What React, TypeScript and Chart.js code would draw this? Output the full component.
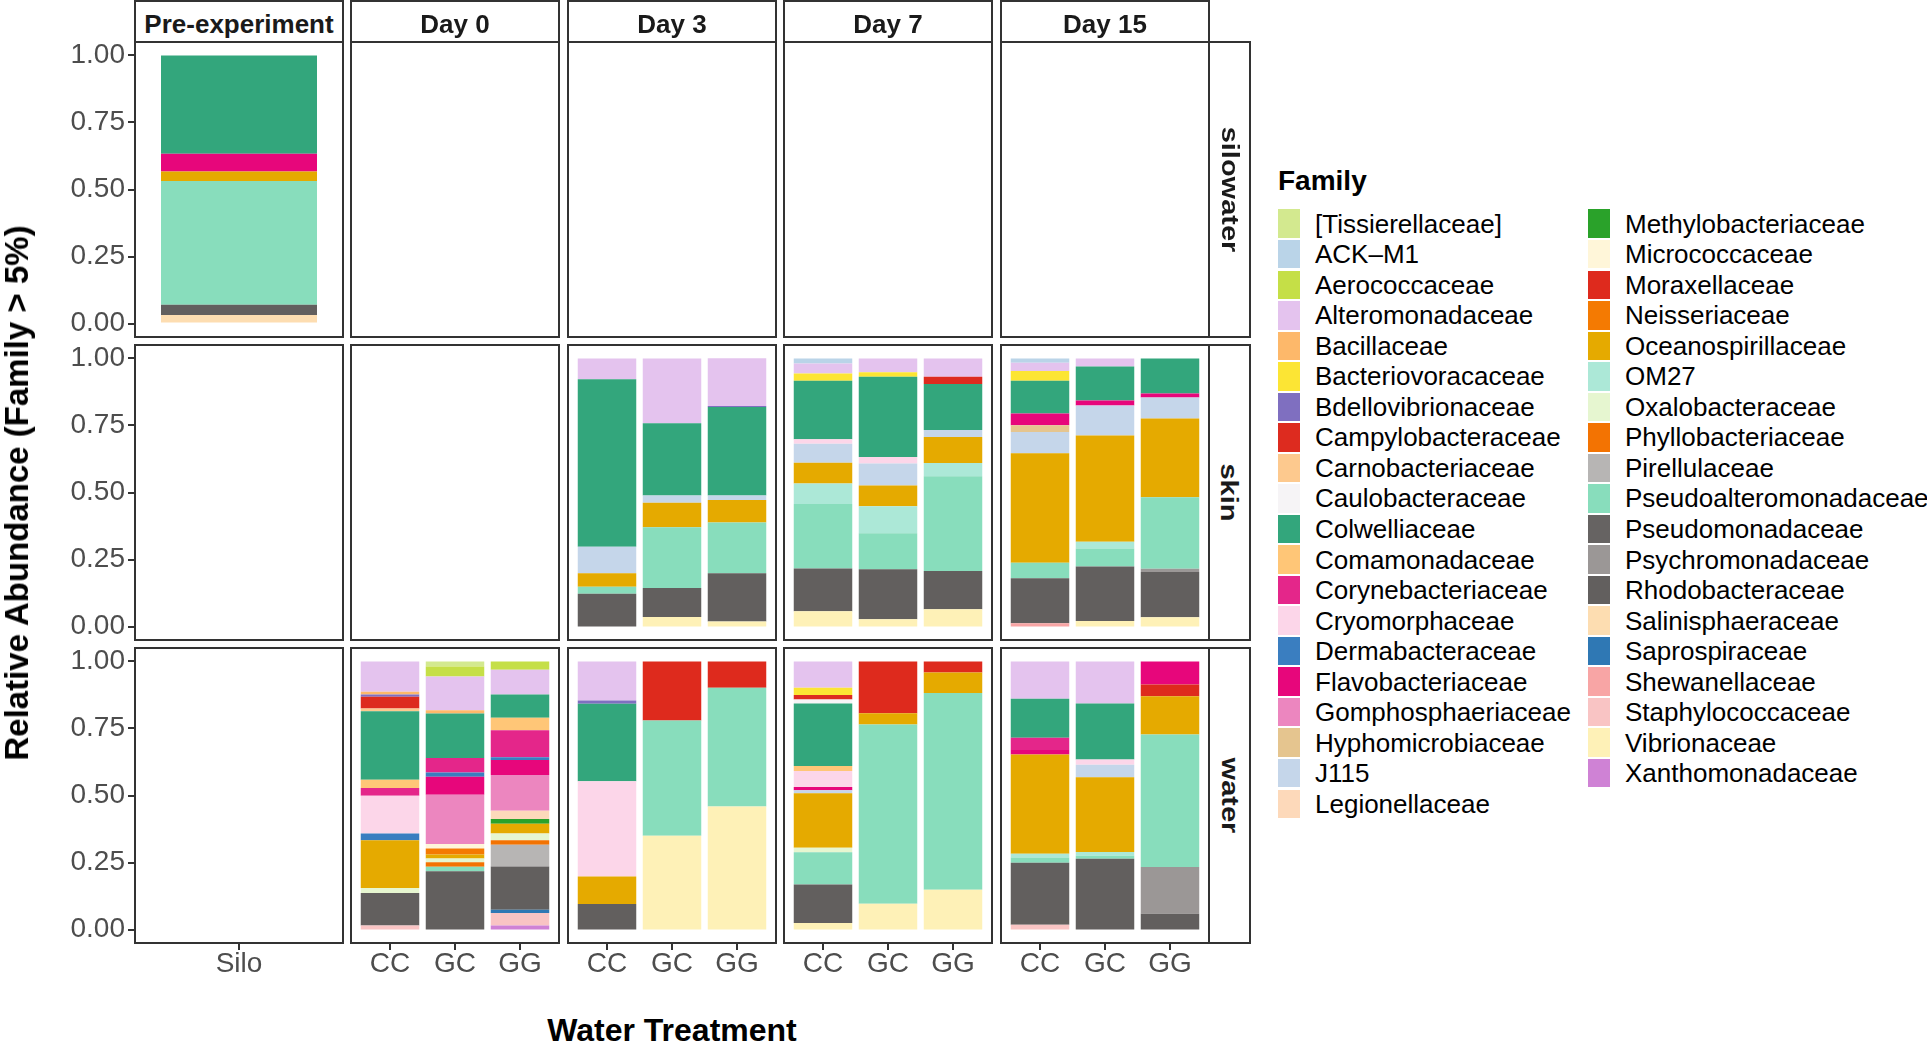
import React, { useEffect, useRef } from "react";
import { Chart, registerables } from "chart.js";

Chart.register(...registerables);

// ---------- categories & labels ----------
const FAMILIES = [
  "[Tissierellaceae]", "ACK–M1", "Aerococcaceae", "Alteromonadaceae", "Bacillaceae",
  "Bacteriovoracaceae", "Bdellovibrionaceae", "Campylobacteraceae", "Carnobacteriaceae",
  "Caulobacteraceae", "Colwelliaceae", "Comamonadaceae", "Corynebacteriaceae",
  "Cryomorphaceae", "Dermabacteraceae", "Flavobacteriaceae", "Gomphosphaeriaceae",
  "Hyphomicrobiaceae", "J115", "Legionellaceae",
  "Methylobacteriaceae", "Micrococcaceae", "Moraxellaceae", "Neisseriaceae",
  "Oceanospirillaceae", "OM27", "Oxalobacteraceae", "Phyllobacteriaceae", "Pirellulaceae",
  "Pseudoalteromonadaceae", "Pseudomonadaceae", "Psychromonadaceae", "Rhodobacteraceae",
  "Salinisphaeraceae", "Saprospiraceae", "Shewanellaceae", "Staphylococcaceae",
  "Vibrionaceae", "Xanthomonadaceae",
];

const FAMILY_COLORS = [
  "#D3E98F", "#BAD4E8", "#C5DF47", "#E4C3EE", "#FDB86A",
  "#FCE534", "#7F6FC0", "#DD2B1F", "#FDC98E",
  "#F6F4F6", "#33A67C", "#FFC677", "#E4268A",
  "#FCD6E9", "#3A7EC0", "#E7067B", "#EC86BF",
  "#E5C58F", "#C5D6EA", "#FDD9BA",
  "#2AA22A", "#FFF6D9", "#DE2A1D", "#F47A02",
  "#E5AA00", "#ACE8D7", "#E6F6D0", "#F37302", "#B7B5B4",
  "#88DDBC", "#666362", "#9B9796", "#625F5E",
  "#FDDDB1", "#2F78B4", "#F8A5A5", "#F9C4C4",
  "#FEF1B7", "#CF82D5",
];

const DAYS = ["Pre-experiment", "Day 0", "Day 3", "Day 7", "Day 15"];
const SITES = ["silowater", "skin", "water"];
const PRE_TREATMENTS = ["Silo"];
const TREATMENTS = ["CC", "GC", "GG"];
const Y_TICKS = [0, 0.25, 0.5, 0.75, 1];

const Y_TITLE = "Relative Abundance (Family > 5%)";
const X_TITLE = "Water Treatment";
const LEGEND_TITLE = "Family";

// ---------- relative abundances per bar (family -> value) ----------
type Bar = Record<string, number>;

const SILOWATER_PRE_SILO: Bar = {
  Colwelliaceae: 0.367, Flavobacteriaceae: 0.066, Oceanospirillaceae: 0.035,
  Pseudoalteromonadaceae: 0.462, Rhodobacteraceae: 0.038, Salinisphaeraceae: 0.032,
};

const SKIN_D3_CC: Bar = {
  Alteromonadaceae: 0.078, Colwelliaceae: 0.624, J115: 0.099, Oceanospirillaceae: 0.05,
  Pseudoalteromonadaceae: 0.027, Rhodobacteraceae: 0.122,
};
const SKIN_D3_GC: Bar = {
  Alteromonadaceae: 0.242, Colwelliaceae: 0.269, J115: 0.027, Oceanospirillaceae: 0.092,
  Pseudoalteromonadaceae: 0.226, Rhodobacteraceae: 0.108, Vibrionaceae: 0.036,
};
const SKIN_D3_GG: Bar = {
  Alteromonadaceae: 0.178, Bdellovibrionaceae: 0.004, Colwelliaceae: 0.33, J115: 0.017,
  Oceanospirillaceae: 0.084, Pseudoalteromonadaceae: 0.189, Rhodobacteraceae: 0.18,
  Vibrionaceae: 0.019,
};
const SKIN_D7_CC: Bar = {
  "ACK–M1": 0.019, Alteromonadaceae: 0.037, Bacteriovoracaceae: 0.027, Colwelliaceae: 0.218,
  Cryomorphaceae: 0.017, J115: 0.071, Oceanospirillaceae: 0.077, OM27: 0.077,
  Pseudoalteromonadaceae: 0.24, Rhodobacteraceae: 0.16, Vibrionaceae: 0.057,
};
const SKIN_D7_GC: Bar = {
  Alteromonadaceae: 0.052, Bacteriovoracaceae: 0.016, Colwelliaceae: 0.3, Cryomorphaceae: 0.024,
  J115: 0.082, Oceanospirillaceae: 0.077, OM27: 0.101, Pseudoalteromonadaceae: 0.134,
  Rhodobacteraceae: 0.187, Vibrionaceae: 0.027,
};
const SKIN_D7_GG: Bar = {
  Alteromonadaceae: 0.068, Campylobacteraceae: 0.027, Colwelliaceae: 0.172, J115: 0.026,
  Oceanospirillaceae: 0.097, OM27: 0.049, Pseudoalteromonadaceae: 0.354,
  Rhodobacteraceae: 0.142, Vibrionaceae: 0.065,
};
const SKIN_D15_CC: Bar = {
  "ACK–M1": 0.016, Alteromonadaceae: 0.031, Bacteriovoracaceae: 0.036, Colwelliaceae: 0.122,
  Flavobacteriaceae: 0.044, Hyphomicrobiaceae: 0.025, J115: 0.08, Oceanospirillaceae: 0.408,
  Pseudoalteromonadaceae: 0.058, Rhodobacteraceae: 0.168, Shewanellaceae: 0.012,
};
const SKIN_D15_GC: Bar = {
  Alteromonadaceae: 0.03, Colwelliaceae: 0.127, Flavobacteriaceae: 0.019, J115: 0.111,
  Oceanospirillaceae: 0.397, OM27: 0.025, Pseudoalteromonadaceae: 0.067,
  Rhodobacteraceae: 0.203, Vibrionaceae: 0.021,
};
const SKIN_D15_GG: Bar = {
  Colwelliaceae: 0.131, Flavobacteriaceae: 0.015, J115: 0.078, Oceanospirillaceae: 0.294,
  Pseudoalteromonadaceae: 0.266, Psychromonadaceae: 0.012, Rhodobacteraceae: 0.169,
  Vibrionaceae: 0.035,
};

const WATER_D0_CC: Bar = {
  Alteromonadaceae: 0.113, Bacillaceae: 0.01, Bdellovibrionaceae: 0.009, Campylobacteraceae: 0.044,
  Carnobacteriaceae: 0.01, Colwelliaceae: 0.255, Comamonadaceae: 0.031, Corynebacteriaceae: 0.029,
  Cryomorphaceae: 0.141, Dermabacteraceae: 0.025, Oceanospirillaceae: 0.178,
  Oxalobacteraceae: 0.019, Rhodobacteraceae: 0.121, Staphylococcaceae: 0.015,
};
const WATER_D0_GC: Bar = {
  "[Tissierellaceae]": 0.019, Aerococcaceae: 0.037, Alteromonadaceae: 0.126, Bacillaceae: 0.012,
  Colwelliaceae: 0.166, Corynebacteriaceae: 0.054, Dermabacteraceae: 0.016,
  Flavobacteriaceae: 0.067, Gomphosphaeriaceae: 0.184, Micrococcaceae: 0.017,
  Neisseriaceae: 0.022, Oceanospirillaceae: 0.015, Oxalobacteraceae: 0.014,
  Phyllobacteriaceae: 0.017, Pseudoalteromonadaceae: 0.016, Rhodobacteraceae: 0.218,
};
const WATER_D0_GG: Bar = {
  Aerococcaceae: 0.031, Alteromonadaceae: 0.092, Colwelliaceae: 0.087, Comamonadaceae: 0.047,
  Corynebacteriaceae: 0.1, Dermabacteraceae: 0.011, Flavobacteriaceae: 0.056,
  Gomphosphaeriaceae: 0.133, Legionellaceae: 0.031, Methylobacteriaceae: 0.017,
  Oceanospirillaceae: 0.037, Oxalobacteraceae: 0.025, Phyllobacteriaceae: 0.017,
  Pirellulaceae: 0.081, Rhodobacteraceae: 0.161, Saprospiraceae: 0.012,
  Staphylococcaceae: 0.047, Xanthomonadaceae: 0.015,
};
const WATER_D3_CC: Bar = {
  Alteromonadaceae: 0.146, Bdellovibrionaceae: 0.012, Colwelliaceae: 0.289, Cryomorphaceae: 0.355,
  Oceanospirillaceae: 0.103, Rhodobacteraceae: 0.095,
};
const WATER_D3_GC: Bar = {
  Moraxellaceae: 0.22, Pseudoalteromonadaceae: 0.43, Vibrionaceae: 0.35,
};
const WATER_D3_GG: Bar = {
  Moraxellaceae: 0.098, Pseudoalteromonadaceae: 0.443, Vibrionaceae: 0.459,
};
const WATER_D7_CC: Bar = {
  Alteromonadaceae: 0.098, Bacteriovoracaceae: 0.027, Campylobacteraceae: 0.017,
  Caulobacteraceae: 0.015, Colwelliaceae: 0.233, Comamonadaceae: 0.019, Cryomorphaceae: 0.059,
  Flavobacteriaceae: 0.012, J115: 0.012, Oceanospirillaceae: 0.203, Oxalobacteraceae: 0.017,
  Pseudoalteromonadaceae: 0.12, Rhodobacteraceae: 0.143, Vibrionaceae: 0.025,
};
const WATER_D7_GC: Bar = {
  Moraxellaceae: 0.193, Oceanospirillaceae: 0.042, Pseudoalteromonadaceae: 0.669, Vibrionaceae: 0.096,
};
const WATER_D7_GG: Bar = {
  Moraxellaceae: 0.041, Oceanospirillaceae: 0.077, Pseudoalteromonadaceae: 0.733, Vibrionaceae: 0.149,
};
const WATER_D15_CC: Bar = {
  Alteromonadaceae: 0.139, Colwelliaceae: 0.146, Corynebacteriaceae: 0.045, Flavobacteriaceae: 0.017,
  Oceanospirillaceae: 0.37, OM27: 0.014, Pseudoalteromonadaceae: 0.02, Rhodobacteraceae: 0.231,
  Staphylococcaceae: 0.018,
};
const WATER_D15_GC: Bar = {
  Alteromonadaceae: 0.157, Colwelliaceae: 0.209, Cryomorphaceae: 0.019, J115: 0.047,
  Oceanospirillaceae: 0.279, OM27: 0.014, Pseudoalteromonadaceae: 0.011, Rhodobacteraceae: 0.264,
};
const WATER_D15_GG: Bar = {
  Flavobacteriaceae: 0.086, Moraxellaceae: 0.044, Oceanospirillaceae: 0.143,
  Pseudoalteromonadaceae: 0.494, Psychromonadaceae: 0.174, Rhodobacteraceae: 0.059,
};

const PANEL_BARS: Record<string, Bar[]> = {
  "silowater|Pre-experiment": [SILOWATER_PRE_SILO],
  "skin|Day 3": [SKIN_D3_CC, SKIN_D3_GC, SKIN_D3_GG],
  "skin|Day 7": [SKIN_D7_CC, SKIN_D7_GC, SKIN_D7_GG],
  "skin|Day 15": [SKIN_D15_CC, SKIN_D15_GC, SKIN_D15_GG],
  "water|Day 0": [WATER_D0_CC, WATER_D0_GC, WATER_D0_GG],
  "water|Day 3": [WATER_D3_CC, WATER_D3_GC, WATER_D3_GG],
  "water|Day 7": [WATER_D7_CC, WATER_D7_GC, WATER_D7_GG],
  "water|Day 15": [WATER_D15_CC, WATER_D15_GC, WATER_D15_GG],
};

// ---------- layout ----------
const FONT = "'Liberation Sans', Arial, Helvetica, sans-serif";
const COL_LEFT = [135, 351, 568, 784, 1001];
const ROW_TOP = [42, 345, 648];
const PANEL_W = 208;
const PANEL_H = 295;
const Y_AXIS_W = 135;
const X_AXIS_H = 48;
const FRAME = "#333333";
const TICK_TEXT = "#4D4D4D";

function Panel({ r, c }: { r: number; c: number }) {
  const ref = useRef<HTMLCanvasElement | null>(null);
  const showY = c === 0;
  const showX = r === SITES.length - 1;
  const w = PANEL_W + (showY ? Y_AXIS_W : 0);
  const h = PANEL_H + (showX ? X_AXIS_H : 0);
  const left = COL_LEFT[c] - (showY ? Y_AXIS_W : 0);
  const top = ROW_TOP[r];

  useEffect(() => {
    if (!ref.current) return;
    const cats = c === 0 ? PRE_TREATMENTS : TREATMENTS;
    const bars = PANEL_BARS[`${SITES[r]}|${DAYS[c]}`] || [];
    const barPct = cats.length === 1 ? 0.9 / 1.2 : 0.9;
    const datasets = FAMILIES.map((f, i) => ({
      label: f,
      stack: "all",
      backgroundColor: FAMILY_COLORS[i],
      borderWidth: 0,
      barPercentage: barPct,
      categoryPercentage: 1,
      data: bars
        .map((b, j) => ({ x: j + 1, y: b[f] || 0 }))
        .filter((p) => p.y > 0),
    })).reverse();

    const tickGrid = {
      display: true,
      drawOnChartArea: false,
      drawTicks: true,
      tickLength: 7,
      color: FRAME,
      lineWidth: 2,
      offset: false,
    };

    const chart = new Chart(ref.current, {
      type: "bar",
      data: { datasets: datasets as any },
      options: {
        responsive: false,
        animation: false,
        events: [],
        layout: { padding: 0, autoPadding: false } as any,
        plugins: { legend: { display: false }, tooltip: { enabled: false } },
        scales: {
          x: {
            type: "linear",
            display: showX,
            min: 0.4,
            max: cats.length + 0.6,
            offset: false,
            grid: tickGrid as any,
            border: { display: false },
            ticks: {
              color: TICK_TEXT,
              font: { family: FONT, size: 28, lineHeight: 1 },
              padding: 0,
              maxRotation: 0,
              autoSkip: false,
              callback: (v: any) => cats[Math.round(Number(v)) - 1] ?? "",
            },
            afterBuildTicks: (s: any) => {
              s.ticks = cats.map((_, i) => ({ value: i + 1 }));
            },
            afterFit: (s: any) => {
              if (showX) s.height = X_AXIS_H;
              s.paddingLeft = 0;
              s.paddingRight = 0;
            },
          },
          y: {
            type: "linear",
            display: showY,
            stacked: true,
            min: -0.05,
            max: 1.05,
            grid: tickGrid as any,
            border: { display: false },
            ticks: {
              color: TICK_TEXT,
              font: { family: FONT, size: 28, lineHeight: 1 },
              padding: 3,
              callback: (v: any) => Number(v).toFixed(2),
            },
            afterBuildTicks: (s: any) => {
              s.ticks = Y_TICKS.map((v) => ({ value: v }));
            },
            afterFit: (s: any) => {
              if (showY) s.width = Y_AXIS_W;
              s.paddingTop = 0;
              s.paddingBottom = 0;
            },
          },
        },
      } as any,
    });
    return () => chart.destroy();
  }, [r, c]);

  return (
    <canvas
      ref={ref}
      width={w}
      height={h}
      style={{ position: "absolute", left, top, width: w, height: h }}
    />
  );
}

export default function App() {
  const panels: React.ReactNode[] = [];
  const frames: React.ReactNode[] = [];
  SITES.forEach((_, r) =>
    DAYS.forEach((__, c) => {
      panels.push(<Panel key={`p${r}-${c}`} r={r} c={c} />);
      frames.push(
        <div
          key={`f${r}-${c}`}
          style={{
            position: "absolute",
            left: COL_LEFT[c] - 1,
            top: ROW_TOP[r] - 1,
            width: PANEL_W + 2,
            height: PANEL_H + 2,
            border: `2px solid ${FRAME}`,
            boxSizing: "border-box",
          }}
        />
      );
    })
  );

  const stripRight = COL_LEFT[4] + PANEL_W;

  return (
    <div
      style={{
        position: "absolute",
        left: 0,
        top: 0,
        width: 1927,
        height: 1042,
        background: "#FFFFFF",
        overflow: "hidden",
        fontFamily: FONT,
      }}
    >
      {panels}
      {frames}
      {DAYS.map((d, c) => (
        <div
          key={`s${c}`}
          style={{
            position: "absolute",
            left: COL_LEFT[c] - 1,
            top: 0,
            width: PANEL_W + 2,
            height: ROW_TOP[0] + 1,
            border: `2px solid ${FRAME}`,
            boxSizing: "border-box",
            background: "#FFFFFF",
            display: "flex",
            alignItems: "center",
            justifyContent: "center",
            paddingTop: 5,
            fontWeight: "bold",
            fontSize: 26,
            color: "#1A1A1A",
            whiteSpace: "nowrap",
          }}
        >
          {d}
        </div>
      ))}
      {SITES.map((s, r) => (
        <div
          key={`rs${r}`}
          style={{
            position: "absolute",
            left: stripRight - 1,
            top: ROW_TOP[r] - 1,
            width: 43,
            height: PANEL_H + 2,
            border: `2px solid ${FRAME}`,
            boxSizing: "border-box",
            background: "#FFFFFF",
            display: "flex",
            alignItems: "center",
            justifyContent: "center",
          }}
        >
          <span
            style={{
              transform: "rotate(90deg) scaleY(0.85)",
              fontWeight: "bold",
              fontSize: 29,
              color: "#1A1A1A",
              whiteSpace: "nowrap",
            }}
          >
            {s}
          </span>
        </div>
      ))}
      <div
        style={{
          position: "absolute",
          left: 17,
          top: 493,
          transform: "translate(-50%, -50%) rotate(-90deg)",
          fontWeight: "bold",
          fontSize: 33,
          color: "#000000",
          whiteSpace: "nowrap",
        }}
      >
        {Y_TITLE}
      </div>
      <div
        style={{
          position: "absolute",
          left: 672,
          top: 1030,
          transform: "translate(-50%, -50%)",
          fontWeight: "bold",
          fontSize: 32,
          color: "#000000",
          whiteSpace: "nowrap",
        }}
      >
        {X_TITLE}
      </div>
      <div
        style={{
          position: "absolute",
          left: 1278,
          top: 181,
          transform: "translateY(-50%)",
          fontWeight: "bold",
          fontSize: 28,
          color: "#000000",
          whiteSpace: "nowrap",
        }}
      >
        {LEGEND_TITLE}
      </div>
      {FAMILIES.map((f, i) => {
        const col = i < 20 ? 0 : 1;
        const row = col === 0 ? i : i - 20;
        const cy = 223.7 + 30.53 * row;
        const kx = col === 0 ? 1278 : 1588;
        return (
          <React.Fragment key={`l${i}`}>
            <div
              style={{
                position: "absolute",
                left: kx,
                top: cy - 14.25,
                width: 21.5,
                height: 28.5,
                background: FAMILY_COLORS[i],
              }}
            />
            <div
              style={{
                position: "absolute",
                left: kx + 37,
                top: cy,
                transform: "translateY(-50%)",
                fontSize: 26,
                color: "#000000",
                whiteSpace: "nowrap",
              }}
            >
              {f}
            </div>
          </React.Fragment>
        );
      })}
    </div>
  );
}
